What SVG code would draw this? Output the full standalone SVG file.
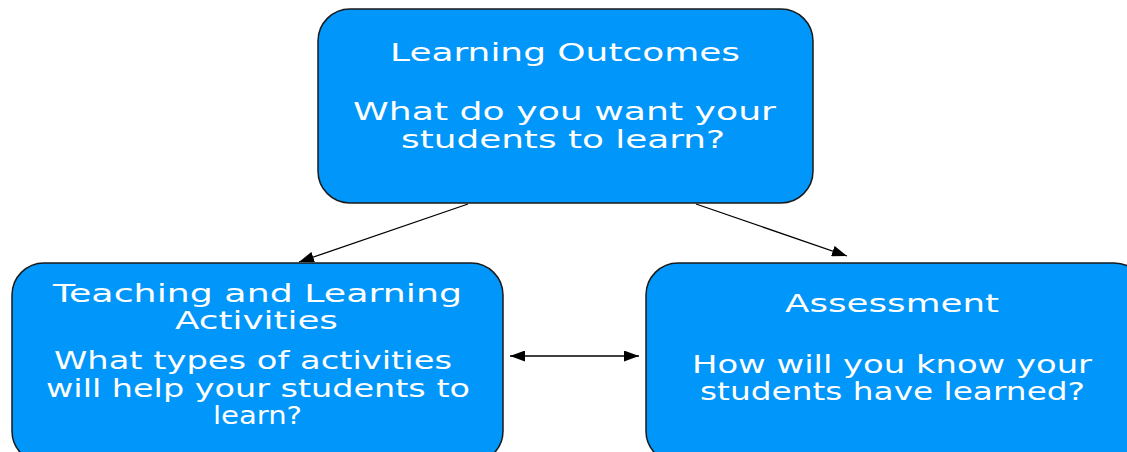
<svg xmlns="http://www.w3.org/2000/svg" width="1127" height="452" viewBox="0 0 1127 452">
<style>
.box{fill:#0096fa;stroke:#1a1a1a;stroke-width:1.5}
.t{font-family:"DejaVu Sans",Verdana,sans-serif;font-size:25px;fill:#ffffff;text-anchor:start}
.c{stroke:#000;stroke-width:1.3;fill:none}
</style>
<defs>
<marker id="ah" viewBox="0 0 15 11" refX="15" refY="5.5" markerWidth="15" markerHeight="11" markerUnits="userSpaceOnUse" orient="auto-start-reverse">
<path d="M0,0 L15,5.5 L0,11 Z" fill="#000"/>
</marker>
</defs>
<g id="connectors">
<path class="c" d="M468,204 L299,262" marker-end="url(#ah)"/>
<path class="c" d="M696,204 L847,256" marker-end="url(#ah)"/>
<path class="c" d="M510,356 L639,356" marker-start="url(#ah)" marker-end="url(#ah)"/>
</g>
<g id="outcomes">
<rect class="box" x="318" y="9" width="495" height="194" rx="32" ry="32"/>
<text class="t" x="390" y="61" textLength="350" lengthAdjust="spacingAndGlyphs">Learning Outcomes</text>
<text class="t" x="353" y="120" textLength="423" lengthAdjust="spacingAndGlyphs">What do you want your</text>
<text class="t" x="401" y="148" textLength="324" lengthAdjust="spacingAndGlyphs">students to learn?</text>
</g>
<g id="activities">
<rect class="box" x="12" y="263" width="491" height="200" rx="32" ry="32"/>
<text class="t" x="53" y="302" textLength="409" lengthAdjust="spacingAndGlyphs">Teaching and Learning</text>
<text class="t" x="175" y="329" textLength="163" lengthAdjust="spacingAndGlyphs">Activities</text>
<text class="t" x="54" y="369" textLength="398" lengthAdjust="spacingAndGlyphs">What types of activities</text>
<text class="t" x="46" y="397" textLength="424" lengthAdjust="spacingAndGlyphs">will help your students to</text>
<text class="t" x="213" y="424" textLength="89" lengthAdjust="spacingAndGlyphs">learn?</text>
</g>
<g id="assessment">
<rect class="box" x="646" y="263" width="500" height="200" rx="32" ry="32"/>
<text class="t" x="785" y="312" textLength="214" lengthAdjust="spacingAndGlyphs">Assessment</text>
<text class="t" x="692" y="373" textLength="400" lengthAdjust="spacingAndGlyphs">How will you know your</text>
<text class="t" x="700" y="400" textLength="385" lengthAdjust="spacingAndGlyphs">students have learned?</text>
</g>
</svg>
